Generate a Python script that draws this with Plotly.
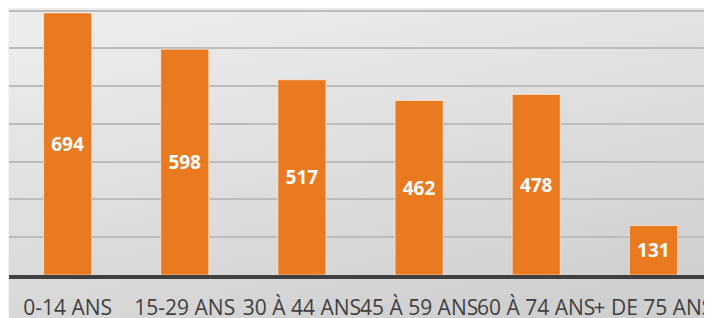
import base64
import plotly.graph_objects as go

categories = ["0-14 ANS", "15-29 ANS", "30 À 44 ANS", "45 À 59 ANS", "60 À 74 ANS", "+ DE 75 ANS"]
values = [694, 598, 517, 462, 478, 131]

# page body has an 8px margin, so the figure is sized to fit the 712x318 window
W, H = 704, 310
ML, MR, MT, MB = 1, 0, 0, 43
plot_h = H - MT - MB

svg = (
    '<svg xmlns="http://www.w3.org/2000/svg" width="100" height="100" preserveAspectRatio="none" viewBox="0 0 100 100">'
    '<defs><linearGradient id="g" x1="0.25" y1="0" x2="0.75" y2="1">'
    '<stop offset="0" stop-color="#ececec"/><stop offset="1" stop-color="#cfcfcf"/>'
    '</linearGradient></defs><rect x="0" y="0" width="100" height="100" fill="url(#g)"/></svg>'
)
bg_uri = "data:image/svg+xml;base64," + base64.b64encode(svg.encode()).decode()

fig = go.Figure(
    go.Bar(
        x=categories,
        y=values,
        text=[str(v) for v in values],
        textposition="inside",
        insidetextanchor="middle",
        textangle=0,
        textfont=dict(family="Open Sans", size=19, color="white", weight="bold"),
        marker=dict(color="#E97A20", line=dict(color="rgba(255,255,255,0.55)", width=1)),
        hoverinfo="skip",
    )
)

fig.add_layout_image(
    dict(
        source=bg_uri,
        xref="paper", yref="paper",
        x=0, y=1,
        sizex=1, sizey=1 + MB / plot_h,
        sizing="stretch",
        xanchor="left", yanchor="top",
        layer="below",
    )
)

fig.update_layout(
    width=W, height=H,
    margin=dict(l=ML, r=MR, t=MT, b=MB),
    paper_bgcolor="#f4f4f4",
    plot_bgcolor="rgba(0,0,0,0)",
    bargap=0.59,
    showlegend=False,
)
fig.update_xaxes(
    tickangle=0,
    tickfont=dict(family="Open Sans", size=21, color="#404040"),
    showline=True, linecolor="#404040", linewidth=4,
    ticks="", showgrid=False, automargin=False,
    ticklabelstandoff=11,
)
fig.update_yaxes(
    range=[0, 707],
    dtick=100,
    showgrid=True, gridcolor="#bcbcbc", gridwidth=2,
    showticklabels=False, zeroline=False, automargin=False,
)

fig.write_html("out.html")
